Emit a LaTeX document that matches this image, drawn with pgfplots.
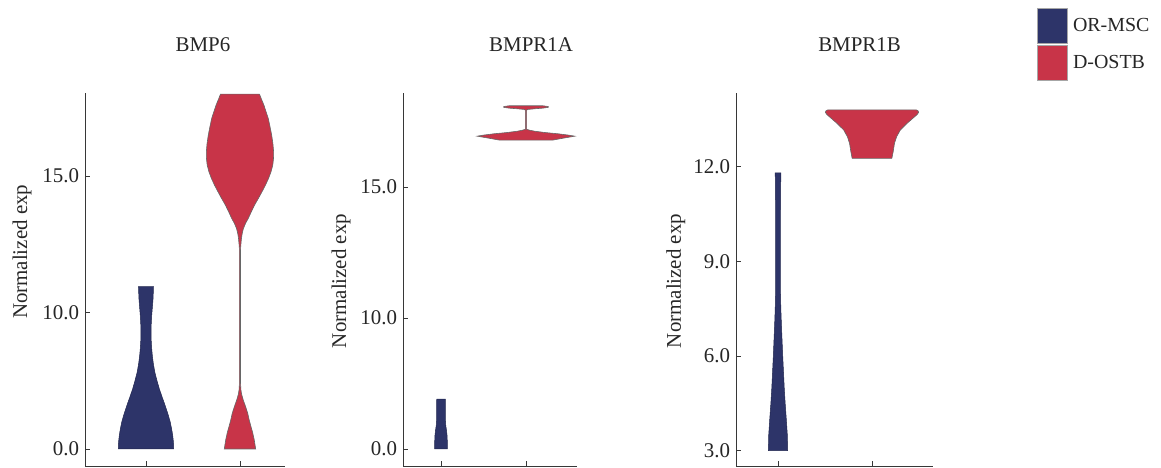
\documentclass[border=0pt]{standalone}
\usepackage{fontspec}
\setmainfont{Liberation Serif}
\usepackage{pgfplots}
\pgfplotsset{compat=1.18}
\definecolor{navy}{RGB}{45,52,105}
\definecolor{crim}{RGB}{200,52,72}
\definecolor{axgray}{RGB}{55,55,55}
\pgfplotsset{
  vio/.style={
    scale only axis, enlargelimits=false, clip=false,
    anchor=south west, height=373bp,
    axis x line*=bottom, axis y line*=left,
    axis line style={-, draw=axgray, line width=0.9bp},
    tick align=inside, major tick length=5bp,
    tick style={draw=axgray, line width=0.9bp},
    xtick={1,2}, xticklabels={},
    font=\fontsize{21}{24}\selectfont,
    ticklabel style={font=\fontsize{21}{24}\selectfont, text=black!85},
    yticklabel style={xshift=-2.5bp},
    ylabel={Normalized exp},
    ylabel style={anchor=center, text=black!85},
    title style={anchor=center, text=black!85},
  },
  blueviolin/.style={fill=navy, draw=navy!75!black, line width=0.5bp},
  redviolin/.style={fill=crim, draw=black!60, line width=0.6bp},
}
\begin{document}
\begin{tikzpicture}[x=1bp,y=1bp]
\useasboundingbox (0,0) rectangle (1161,468);

% ---------------- BMP6 ----------------
\begin{axis}[vio, at={(85bp,2bp)}, width=200bp,
  xmin=0.351, xmax=2.479, ymin=4.377, ymax=18.04,
  ytick={5,10,15}, yticklabels={{0.0},{10.0},{15.0}},
  title={BMP6}, title style={at={(axis description cs:0.59,1.114)}},
  ylabel style={at={(axis description cs:-0.315,0.574)}}]
\addplot[blueviolin] coordinates {
(1.295,5.0) (1.292,5.25) (1.284,5.5) (1.272,5.75) (1.257,6.0) (1.232,6.3) (1.203,6.6) (1.172,6.9) (1.142,7.2) (1.117,7.5) (1.095,7.8) (1.079,8.1) (1.068,8.4) (1.060,8.7) (1.055,9.0) (1.054,9.3) (1.056,9.6) (1.061,9.9) (1.068,10.2) (1.075,10.5) (1.080,10.95)
(0.920,10.95) (0.925,10.5) (0.932,10.2) (0.939,9.9) (0.944,9.6) (0.946,9.3) (0.945,9.0) (0.940,8.7) (0.932,8.4) (0.921,8.1) (0.905,7.8) (0.883,7.5) (0.858,7.2) (0.828,6.9) (0.797,6.6) (0.768,6.3) (0.743,6.0) (0.728,5.75) (0.716,5.5) (0.708,5.25) (0.705,5.0)
} -- cycle;
\addplot[redviolin] coordinates {
(2.167,5.0) (2.152,5.33) (2.135,5.6) (2.117,5.82) (2.099,6.05) (2.082,6.31) (2.060,6.55) (2.035,6.79) (2.018,7.0) (2.010,7.16) (2.006,7.4) (2.006,12.3) (2.009,12.47) (2.016,12.72) (2.024,12.9) (2.037,13.08) (2.060,13.27) (2.089,13.45) (2.122,13.7) (2.156,13.94) (2.196,14.18) (2.234,14.42) (2.272,14.67) (2.305,14.92) (2.330,15.15) (2.349,15.4) (2.357,15.65) (2.358,15.89) (2.350,16.2) (2.337,16.5) (2.320,16.8) (2.301,17.11) (2.278,17.35) (2.254,17.6) (2.230,17.8) (2.207,18.0)
(1.793,18.0) (1.770,17.8) (1.746,17.6) (1.722,17.35) (1.699,17.11) (1.680,16.8) (1.663,16.5) (1.650,16.2) (1.642,15.89) (1.643,15.65) (1.651,15.4) (1.670,15.15) (1.695,14.92) (1.728,14.67) (1.766,14.42) (1.804,14.18) (1.844,13.94) (1.878,13.7) (1.911,13.45) (1.940,13.27) (1.963,13.08) (1.976,12.9) (1.984,12.72) (1.991,12.47) (1.994,12.3) (1.994,7.4) (1.990,7.16) (1.982,7.0) (1.965,6.79) (1.940,6.55) (1.918,6.31) (1.901,6.05) (1.883,5.82) (1.865,5.6) (1.848,5.33) (1.833,5.0)
} -- cycle;
\end{axis}

% ---------------- BMPR1A ----------------
\begin{axis}[vio, at={(403bp,2bp)}, width=174bp,
  xmin=0.553, xmax=2.6, ymin=4.351, ymax=18.588,
  ytick={5,10,15}, yticklabels={{0.0},{10.0},{15.0}},
  title={BMPR1A}, title style={at={(axis description cs:0.736,1.114)}},
  ylabel style={at={(axis description cs:-0.356,0.496)}}]
\addplot[blueviolin] coordinates {
(1.075,5.0) (1.073,5.46) (1.065,5.7) (1.056,5.9) (1.052,6.11) (1.050,6.9)
(0.950,6.9) (0.948,6.11) (0.944,5.9) (0.935,5.7) (0.927,5.46) (0.925,5.0)
} -- cycle;
\addplot[redviolin] coordinates {
(2.314,16.79) (2.45,16.87) (2.575,16.94) (2.50,16.98) (2.38,17.03) (2.22,17.08) (2.10,17.13) (2.04,17.17) (2.008,17.2) (2.008,17.93) (2.02,17.96) (2.12,17.99) (2.2,18.01) (2.262,18.04) (2.262,18.07) (2.2,18.1)
(1.8,18.1) (1.738,18.07) (1.738,18.04) (1.8,18.01) (1.88,17.99) (1.98,17.96) (1.992,17.93) (1.992,17.2) (1.96,17.17) (1.90,17.13) (1.78,17.08) (1.62,17.03) (1.50,16.98) (1.425,16.94) (1.55,16.87) (1.686,16.79)
} -- cycle;
\end{axis}

% ---------------- BMPR1B ----------------
\begin{axis}[vio, at={(736bp,2bp)}, width=197bp,
  xmin=0.553, xmax=2.649, ymin=2.515, ymax=14.334,
  ytick={3,6,9,12}, yticklabels={{3.0},{6.0},{9.0},{12.0}},
  title={BMPR1B}, title style={at={(axis description cs:0.627,1.114)}},
  ylabel style={at={(axis description cs:-0.305,0.496)}},
  legend image code/.code={\draw[#1] (0bp,-17.5bp) rectangle (30bp,17.5bp);},
  legend cell align=left,
  legend style={at={(axis description cs:1.528,1.228)}, anchor=north west,
    draw=none, fill=none, inner sep=0pt, row sep=1bp, column sep=5bp,
    nodes={inner sep=0pt, text=black!85},
    font=\fontsize{20}{22}\selectfont}]
\addlegendimage{fill=navy, draw=black!35, line width=0.8bp}
\addlegendentry{OR-MSC}
\addlegendimage{fill=crim, draw=black!35, line width=0.8bp}
\addlegendentry{D-OSTB}
\addplot[blueviolin, forget plot] coordinates {
(1.103,3.0) (1.099,3.5) (1.088,4.0) (1.076,4.5) (1.066,5.0) (1.058,5.5) (1.050,6.0) (1.043,6.5) (1.036,7.0) (1.030,7.5) (1.026,8.0) (1.025,9.0) (1.025,10.0) (1.027,11.0) (1.030,11.8)
(0.970,11.8) (0.973,11.0) (0.975,10.0) (0.975,9.0) (0.974,8.0) (0.970,7.5) (0.964,7.0) (0.957,6.5) (0.950,6.0) (0.942,5.5) (0.934,5.0) (0.924,4.5) (0.912,4.0) (0.901,3.5) (0.897,3.0)
} -- cycle;
\addplot[redviolin, forget plot] coordinates {
(2.211,12.26) (2.225,12.47) (2.239,12.74) (2.262,12.95) (2.301,13.16) (2.372,13.37) (2.434,13.53) (2.480,13.65) (2.496,13.72) (2.490,13.77) (2.470,13.80)
(1.530,13.80) (1.510,13.77) (1.504,13.72) (1.520,13.65) (1.566,13.53) (1.628,13.37) (1.699,13.16) (1.738,12.95) (1.761,12.74) (1.775,12.47) (1.789,12.26)
} -- cycle;
\end{axis}
\end{tikzpicture}
\end{document}
